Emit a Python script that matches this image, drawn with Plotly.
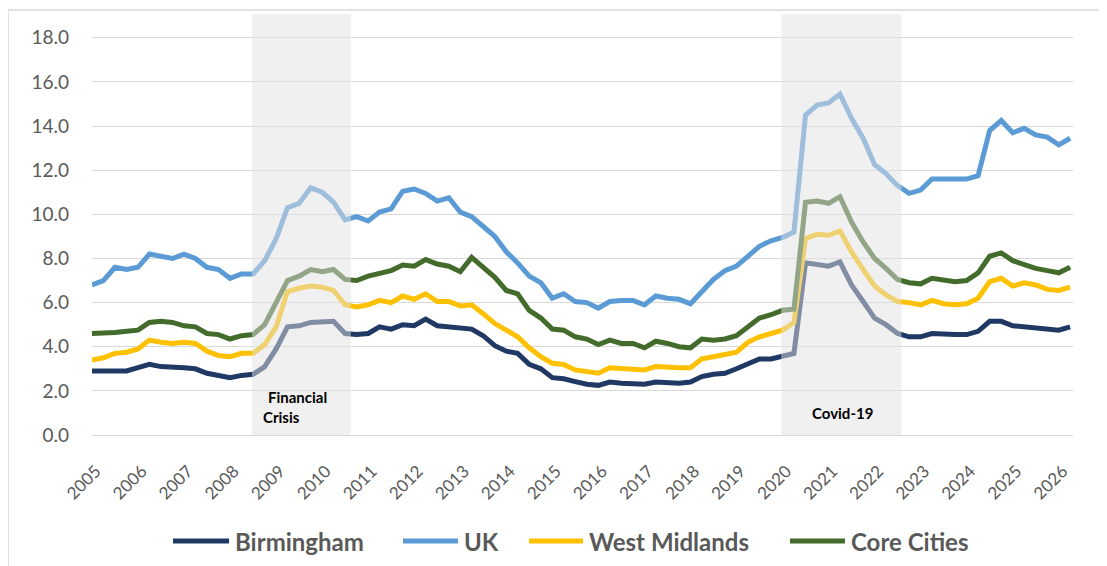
import pandas as pd
import plotly.graph_objects as go

# Quarterly observations (Dec 2004 .. Mar 2026)
dates = pd.date_range("2004-12-01", periods=86, freq="3MS")

birmingham = [2.9, 2.9, 2.85, 2.9, 3.05, 3.2, 3.1, 3.1, 3.05, 3.0,
              2.8, 2.7, 2.6, 2.7, 2.75, 3.1, 3.9, 4.9, 4.95, 5.1,
              5.1, 5.15, 4.6, 4.55, 4.6, 4.9, 4.8, 5.0, 4.95, 5.25,
              4.95, 4.9, 4.9, 4.8, 4.5, 4.05, 3.8, 3.7, 3.2, 3.0,
              2.6, 2.55, 2.42, 2.3, 2.25, 2.4, 2.35, 2.3, 2.3, 2.4,
              2.35, 2.35, 2.4, 2.65, 2.75, 2.8, 3.0, 3.2, 3.45, 3.45,
              3.6, 3.7, 7.8, 7.7, 7.65, 7.85, 6.8, 6.05, 5.3, 5.0,
              4.6, 4.45, 4.45, 4.6, 4.55, 4.55, 4.55, 4.7, 5.15, 5.15,
              4.95, 4.9, 4.9, 4.8, 4.75, 4.9]

uk = [6.8, 7.0, 7.6, 7.5, 7.6, 8.2, 8.1, 8.0, 8.2, 8.0,
      7.6, 7.5, 7.1, 7.3, 7.3, 7.9, 8.9, 10.3, 10.5, 11.2,
      11.0, 10.55, 9.75, 9.9, 9.7, 10.1, 10.25, 11.05, 11.15, 10.95,
      10.6, 10.75, 10.1, 9.9, 9.45, 9.0, 8.3, 7.8, 7.2, 6.9,
      6.2, 6.4, 6.05, 6.0, 5.75, 6.05, 6.1, 6.1, 5.9, 6.3,
      6.2, 6.15, 5.95, 6.5, 7.05, 7.45, 7.65, 8.1, 8.55, 8.8,
      8.95, 9.2, 14.5, 14.95, 15.05, 15.45, 14.35, 13.45, 12.25, 11.85,
      11.3, 10.95, 11.1, 11.6, 11.6, 11.55, 11.6, 11.75, 13.8, 14.25,
      13.7, 13.9, 13.6, 13.5, 13.15, 13.45]

west_midlands = [3.4, 3.5, 3.7, 3.75, 3.9, 4.3, 4.2, 4.15, 4.2, 4.15,
                 3.8, 3.6, 3.55, 3.7, 3.7, 4.1, 4.9, 6.5, 6.65, 6.75,
                 6.7, 6.55, 5.9, 5.8, 5.9, 6.1, 6.0, 6.3, 6.15, 6.4,
                 6.05, 6.05, 5.85, 5.9, 5.5, 5.05, 4.75, 4.45, 3.95, 3.55,
                 3.25, 3.2, 2.95, 2.85, 2.8, 3.05, 3.0, 3.0, 2.95, 3.1,
                 3.05, 3.05, 3.05, 3.45, 3.55, 3.65, 3.75, 4.2, 4.45, 4.6,
                 4.75, 5.1, 8.9, 9.1, 9.05, 9.25, 8.3, 7.5, 6.75, 6.35,
                 6.05, 6.0, 5.9, 6.1, 5.95, 5.9, 5.95, 6.2, 6.95, 7.1,
                 6.75, 6.9, 6.8, 6.6, 6.55, 6.7]

core_cities = [4.6, 4.6, 4.65, 4.7, 4.75, 5.1, 5.15, 5.1, 4.95, 4.9,
               4.6, 4.55, 4.35, 4.5, 4.55, 5.0, 5.95, 7.0, 7.2, 7.5,
               7.4, 7.5, 7.05, 7.0, 7.2, 7.35, 7.45, 7.7, 7.65, 7.95,
               7.75, 7.65, 7.4, 8.05, 7.6, 7.15, 6.55, 6.4, 5.65, 5.3,
               4.8, 4.75, 4.45, 4.35, 4.1, 4.3, 4.15, 4.15, 3.95, 4.25,
               4.15, 4.0, 3.95, 4.35, 4.3, 4.35, 4.5, 4.9, 5.3, 5.45,
               5.65, 5.7, 10.55, 10.6, 10.5, 10.8, 9.65, 8.75, 8.0, 7.55,
               7.05, 6.9, 6.85, 7.1, 7.0, 6.95, 7.0, 7.35, 8.1, 8.25,
               7.9, 7.7, 7.55, 7.45, 7.35, 7.6]

series_names = ["Birmingham", "UK", "West Midlands", "Core Cities"]
series_values = [birmingham, uk, west_midlands, core_cities]
series_colors = ["#203864", "#5B9BD5", "#FFC000", "#436B2C"]

years = list(range(2005, 2027))
year_ticks = [f"{y}-01-01" for y in years]
year_labels = [str(y) for y in years]
y_ticks = [0, 2, 4, 6, 8, 10, 12, 14, 16, 18]

periods = [("2008-05-23", "2010-07-17", "Financial Crisis"),
           ("2019-11-21", "2022-07-01", "Covid-19")]

for v in series_values:
    assert len(v) == len(dates)

FONT = "Lato, 'Open Sans', sans-serif"
GREY = "#595959"

fig = go.Figure()
for name, vals, col in zip(series_names, series_values, series_colors):
    fig.add_trace(go.Scatter(x=dates, y=vals, name=name, mode="lines",
                             line=dict(color=col, width=5), showlegend=False))

shapes = []
for x0, x1, _ in periods:
    shapes.append(dict(type="rect", xref="x", yref="paper", x0=x0, x1=x1,
                       y0=0, y1=1, fillcolor="rgba(225,225,225,0.5)",
                       line=dict(width=0), layer="above"))
# outer chart border
shapes.append(dict(type="rect", xref="paper", yref="paper",
                   x0=-0.0856, x1=1.04, y0=-0.33, y1=1.0095,
                   line=dict(color="#D9D9D9", width=1.5),
                   fillcolor="rgba(0,0,0,0)", layer="below"))

annotations = [
    dict(text="Financial", xref="paper", yref="paper", x=0.1774, y=0.0903,
         xanchor="left", yanchor="middle", showarrow=False,
         font=dict(family=FONT, size=15, color="#000000", weight="bold")),
    dict(text="Crisis", xref="paper", yref="paper", x=0.1723, y=0.0428,
         xanchor="left", yanchor="middle", showarrow=False,
         font=dict(family=FONT, size=15, color="#000000", weight="bold")),
    dict(text="Covid-19", xref="paper", yref="paper", x=0.765, y=0.0523,
         xanchor="center", yanchor="middle", showarrow=False,
         font=dict(family=FONT, size=15, color="#000000", weight="bold")),
]

# Legend (drawn as line samples + labels below the plot)
legend_line_x = [(0.0826, 0.1397), (0.3170, 0.3731), (0.4455, 0.5005), (0.7115, 0.7676)]
legend_y = -0.2518
for (lx0, lx1), name, col in zip(legend_line_x, series_names, series_colors):
    shapes.append(dict(type="line", xref="paper", yref="paper",
                       x0=lx0, x1=lx1, y0=legend_y, y1=legend_y,
                       line=dict(color=col, width=5)))
    annotations.append(dict(text=name, xref="paper", yref="paper",
                            x=lx1 + 0.004, y=legend_y, xanchor="left",
                            yanchor="middle", showarrow=False,
                            font=dict(family=FONT, size=24, color=GREY,
                                      weight="bold")))

fig.update_layout(
    template="none",
    width=1099, height=558,
    margin=dict(l=84, r=34, t=6, b=131, autoexpand=False),
    paper_bgcolor="white", plot_bgcolor="white",
    shapes=shapes, annotations=annotations,
    showlegend=False,
    xaxis=dict(type="date", range=["2004-12-01", "2026-03-24"],
               automargin=False,
               tickmode="array", tickvals=year_ticks, ticktext=year_labels,
               tickangle=-45, showgrid=False, zeroline=False, showline=False,
               ticks="", ticklabelstandoff=22,
               tickfont=dict(family=FONT, size=17, color=GREY)),
    yaxis=dict(range=[0, 19.08], tickmode="array", tickvals=y_ticks,
               automargin=False,
               tickformat=".1f", showgrid=True, gridcolor="#D9D9D9",
               gridwidth=1.3, zeroline=True, zerolinecolor="#D9D9D9",
               zerolinewidth=1.3, showline=False, ticks="",
               ticklabelstandoff=22,
               tickfont=dict(family=FONT, size=19, color=GREY)),
)

fig.write_html("out.html")
